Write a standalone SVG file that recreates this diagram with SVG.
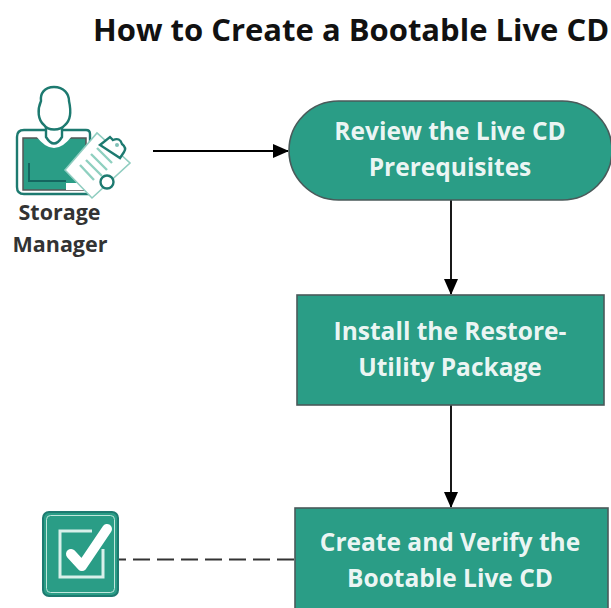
<svg xmlns="http://www.w3.org/2000/svg" width="611" height="608" viewBox="0 0 611 608">
<style>
.box{fill:#2a9d86;stroke:#4a5a5a;stroke-width:1.6}
.lb{font-family:"Open Sans","Liberation Sans",sans-serif;font-weight:700;font-size:24.5px;fill:#fff;fill-opacity:.93;text-anchor:middle}
.ac{font-family:"Open Sans","Liberation Sans",sans-serif;font-weight:700;font-size:21.500px;fill:#333;text-anchor:middle}
.ln{stroke:#000;stroke-width:1.8;fill:none}
.ic{stroke:#1d7a70;stroke-width:2.4;fill:#fff}
.cl{stroke:#8fd0c0;stroke-width:2.4;fill:none}
</style>
<defs><marker id="a" markerWidth="16" markerHeight="14" refX="15" refY="7" orient="auto" markerUnits="userSpaceOnUse"><path d="M0 0L16 7L0 14Z" fill="#000"/></marker></defs>
<rect width="611" height="608" fill="#fff"/>
<text x="93" y="41" font-family="'Open Sans','Liberation Sans',sans-serif" font-weight="700" font-size="31" fill="#111">How to Create a Bootable Live CD</text>
<g id="connectors">
<path class="ln" d="M153 151H288" marker-end="url(#a)"/>
<path class="ln" d="M451 200V294" marker-end="url(#a)"/>
<path class="ln" d="M451 405V507" marker-end="url(#a)"/>
<path d="M119 559.500H295" fill="none" stroke="#333" stroke-width="2" stroke-dasharray="17 7" stroke-dashoffset="10"/>
</g>
<g id="storage-manager">
<path class="ic" d="M24 130H86Q90 130 90 134V194H24Q17 194 17 187V137Q17 130 24 130Z"/>
<path d="M23 138H86V190H23Z" fill="#2a9d86" stroke="#555" stroke-width="1.5"/>
<path d="M29 163V181H66" fill="none" stroke="#14665f" stroke-width="2"/>
<path d="M66 183H82L85 190H66Z" fill="#fff"/>
<path d="M36 136Q54 160 72 136Z" fill="#fff"/>
<path class="ic" d="M46 126V137Q54 150 62 137V126Z"/>
<path class="ic" d="M54 87C44 87 40 94 41 101C37 110 38 120 44 125C48 131 60 131 65 125C71 120 71 110 69 101C69 94 64 87 54 87Z"/>
<path d="M65 170L97 133L130 163L92 198Z" fill="#fff" stroke="#8fcdc0" stroke-width="1.6"/>
<path class="ic" d="M100 145L110 137L113 140Q120 137 122 144Q127 148 124 152L120 158Z" stroke-width="1.6"/>
<circle cx="117" cy="145" r="2" fill="#7fbfb5"/>
<circle class="ic" cx="107" cy="182" r="6.500" stroke-width="1.8"/>
<path class="cl" d="M80 165L94 180M86 160L102 176M91 154L107 170M97 148L112 163"/>
<text class="ac" x="59.500" y="220">Storage</text>
<text class="ac" x="60" y="252">Manager</text>
</g>
<g id="review">
<rect class="box" x="289" y="101" width="323" height="99" rx="49.5"/>
<text class="lb" x="450" y="140">Review the Live CD</text>
<text class="lb" x="450" y="176">Prerequisites</text>
</g>
<g id="install">
<rect class="box" x="297" y="295" width="307" height="110"/>
<text class="lb" x="450" y="340">Install the Restore-</text>
<text class="lb" x="450" y="376">Utility Package</text>
</g>
<g id="create">
<rect class="box" x="295" y="508" width="313" height="110"/>
<text class="lb" x="450" y="551">Create and Verify the</text>
<text class="lb" x="450" y="587">Bootable Live CD</text>
</g>
<g id="done">
<rect x="43" y="512" width="75" height="84" rx="6" fill="#2a9d86" stroke="#1d7a70" stroke-width="2"/>
<rect x="46.500" y="515.500" width="68" height="77" rx="4" fill="none" stroke="#bfe6dc" stroke-width="1"/>
<path d="M92 531H60V577H103V549" fill="none" stroke="#d8f0ea" stroke-width="3"/>
<path d="M71 554L82 566L107 529" fill="none" stroke="#fff" stroke-width="10" stroke-linecap="round" stroke-linejoin="round"/>
</g>
</svg>
